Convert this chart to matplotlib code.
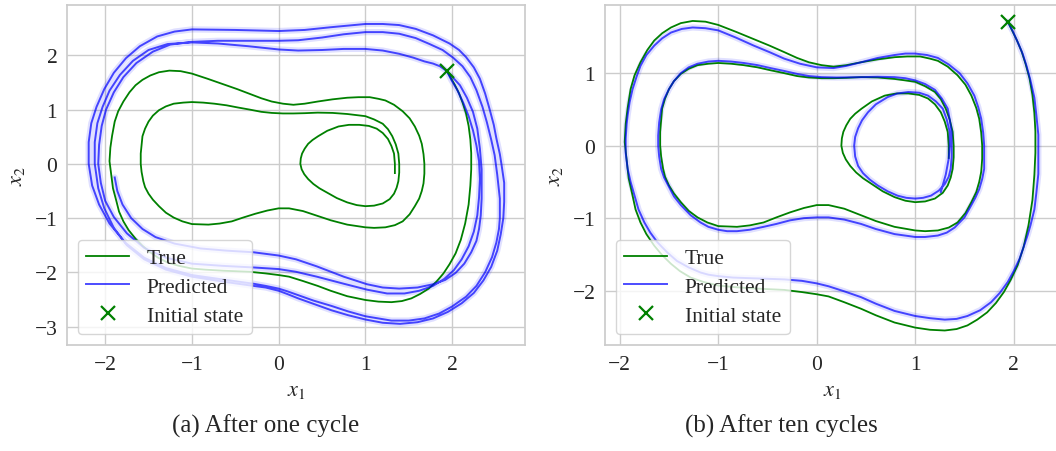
import numpy as np
import matplotlib
matplotlib.use("Agg")
import matplotlib.pyplot as plt

# ---------------- data ----------------
init_state = (1.94, 1.71)

true_x1 = [1.94, 1.98, 2.03, 2.08, 2.12, 2.16, 2.19, 2.21, 2.22, 2.22, 2.21, 2.19, 2.15, 2.10, 2.04, 1.97, 1.90, 1.82, 1.73, 1.63,
           1.53, 1.42, 1.30, 1.15, 1.00, 0.79, 0.60, 0.45, 0.28, 0.12, 0.00, -0.15, -0.33, -0.64, -0.85, -1.00, -1.15, -1.28, -1.39, -1.48,
           -1.57, -1.65, -1.73, -1.79, -1.84, -1.87, -1.91, -1.93, -1.95, -1.94, -1.92, -1.89, -1.85, -1.79, -1.72, -1.65, -1.57, -1.48, -1.38, -1.26,
           -1.13, -1.00, -0.82, -0.64, -0.48, -0.33, -0.20, -0.08, 0.05, 0.17, 0.30, 0.45, 0.62, 0.79, 0.92, 1.05, 1.15, 1.23, 1.33, 1.43,
           1.51, 1.57, 1.62, 1.65, 1.67, 1.68, 1.68, 1.67, 1.65, 1.62, 1.57, 1.51, 1.43, 1.34, 1.23, 1.10, 1.00, 0.79, 0.60, 0.45,
           0.28, 0.12, 0.00, -0.13, -0.27, -0.41, -0.54, -0.68, -0.81, -1.00, -1.11, -1.21, -1.30, -1.38, -1.45, -1.50, -1.54, -1.56, -1.58, -1.59,
           -1.59, -1.58, -1.57, -1.54, -1.50, -1.45, -1.38, -1.30, -1.21, -1.10, -1.00, -0.87, -0.74, -0.60, -0.47, -0.33, -0.20, -0.08, 0.05, 0.17,
           0.30, 0.45, 0.62, 0.79, 0.90, 1.00, 1.10, 1.20, 1.26, 1.31, 1.35, 1.38, 1.39, 1.39, 1.38, 1.36, 1.33, 1.28, 1.20, 1.10,
           1.00, 0.90, 0.79, 0.67, 0.56, 0.47, 0.40, 0.34, 0.295, 0.265, 0.25, 0.255, 0.27, 0.30, 0.34, 0.39, 0.455, 0.56, 0.69, 0.81,
           0.93, 1.04, 1.13, 1.20, 1.26, 1.30, 1.33, 1.34, 1.34]
true_x2 = [1.71, 1.60, 1.46, 1.30, 1.13, 0.93, 0.70, 0.45, 0.20, -0.10, -0.40, -0.75, -1.10, -1.40, -1.65, -1.85, -2.02, -2.17, -2.30, -2.40,
           -2.48, -2.53, -2.55, -2.54, -2.51, -2.44, -2.34, -2.25, -2.16, -2.08, -2.05, -2.02, -1.99, -1.97, -1.95, -1.93, -1.88, -1.82, -1.73, -1.63,
           -1.51, -1.38, -1.22, -1.06, -0.88, -0.69, -0.45, -0.20, 0.05, 0.30, 0.52, 0.78, 0.97, 1.15, 1.32, 1.45, 1.55, 1.63, 1.69, 1.72,
           1.71, 1.665, 1.57, 1.47, 1.38, 1.29, 1.21, 1.15, 1.11, 1.09, 1.11, 1.15, 1.19, 1.22, 1.23, 1.23, 1.20, 1.17, 1.09, 0.97,
           0.84, 0.69, 0.52, 0.37, 0.18, 0.00, -0.18, -0.36, -0.50, -0.64, -0.78, -0.93, -1.06, -1.13, -1.17, -1.18, -1.17, -1.12, -1.04, -0.96,
           -0.87, -0.82, -0.82, -0.86, -0.92, -0.99, -1.06, -1.10, -1.12, -1.11, -1.06, -0.99, -0.90, -0.78, -0.66, -0.55, -0.43, -0.32, -0.15, 0.00,
           0.19, 0.35, 0.51, 0.65, 0.78, 0.89, 0.99, 1.06, 1.11, 1.13, 1.14, 1.13, 1.11, 1.08, 1.04, 1.00, 0.96, 0.94, 0.93, 0.93,
           0.935, 0.945, 0.94, 0.92, 0.90, 0.88, 0.82, 0.74, 0.64, 0.51, 0.36, 0.19, 0.00, -0.16, -0.32, -0.44, -0.55, -0.65, -0.73, -0.77,
           -0.78, -0.76, -0.71, -0.63, -0.53, -0.45, -0.37, -0.28, -0.19, -0.10, 0.00, 0.10, 0.19, 0.28, 0.37, 0.44, 0.51, 0.61, 0.69, 0.72,
           0.72, 0.70, 0.65, 0.57, 0.46, 0.33, 0.19, 0.00, -0.17]

# prediction rolled out after one training cycle
pred1_x1 = [1.94, 1.99, 2.06, 2.13, 2.19, 2.24, 2.28, 2.31, 2.32, 2.31, 2.29, 2.25, 2.19, 2.11, 2.02, 1.91, 1.78, 1.62, 1.45, 1.25,
            1.02, 0.75, 0.44, 0.20, 0.00, -0.29, -0.65, -1.00, -1.30, -1.55, -1.75, -1.90, -2.00, -2.05, -2.08, -2.07, -2.04, -1.99, -1.90, -1.79,
            -1.64, -1.45, -1.25, -1.00, -0.70, -0.35, 0.00, 0.225, 0.50, 0.75, 1.00, 1.20, 1.39, 1.58, 1.74, 1.89, 2.01, 2.12, 2.21, 2.28,
            2.35, 2.40, 2.45, 2.49, 2.52, 2.55, 2.55, 2.54, 2.51, 2.46, 2.38, 2.28, 2.16, 2.00, 1.85, 1.68, 1.50, 1.30, 1.00, 0.80,
            0.61, 0.40, 0.225, 0.10, 0.00, -0.15, -0.29, -0.65, -1.00, -1.30, -1.55, -1.77, -1.95, -2.07, -2.15, -2.19, -2.19, -2.16, -2.10, -2.01,
            -1.90, -1.76, -1.60, -1.40, -1.20, -1.00, -0.50, 0.00, 0.30, 0.60, 1.00, 1.20, 1.39, 1.58, 1.78, 1.97, 2.08, 2.16, 2.25, 2.32,
            2.38, 2.43, 2.48, 2.51, 2.55, 2.57, 2.60, 2.60, 2.59, 2.56, 2.52, 2.45, 2.36, 2.25, 2.11, 1.95, 1.78, 1.60, 1.40, 1.20,
            1.00, 0.80, 0.61, 0.40, 0.225, 0.10, 0.00, -0.15, -0.29, -0.65, -1.00, -1.30, -1.55, -1.75, -1.90, -2.01, -2.08, -2.12, -2.12, -2.09,
            -2.03, -1.95, -1.83, -1.68, -1.50, -1.28, -1.00, -0.70, -0.35, 0.00, 0.225, 0.50, 0.75, 1.00, 1.20, 1.39, 1.55, 1.68, 1.78, 1.86,
            1.93, 2.01, 2.09, 2.17, 2.24, 2.29, 2.32, 2.34, 2.34, 2.33, 2.31, 2.28, 2.22, 2.14, 2.04, 1.92, 1.78, 1.60, 1.39, 1.20,
            1.02, 0.75, 0.44, 0.20, 0.00, -0.29, -0.60, -0.90, -1.20, -1.42, -1.57, -1.70, -1.80, -1.86, -1.89]
pred1_x2 = [1.71, 1.55, 1.36, 1.12, 0.88, 0.62, 0.34, 0.05, -0.28, -0.62, -0.95, -1.25, -1.52, -1.76, -1.96, -2.12, -2.25, -2.34, -2.39, -2.39,
            -2.32, -2.21, -2.08, -1.99, -1.94, -1.91, -1.88, -1.84, -1.73, -1.55, -1.28, -0.98, -0.68, -0.35, 0.00, 0.35, 0.70, 1.00, 1.32, 1.60,
            1.86, 2.07, 2.20, 2.25, 2.27, 2.27, 2.27, 2.28, 2.33, 2.39, 2.43, 2.43, 2.40, 2.32, 2.21, 2.10, 1.96, 1.80, 1.60, 1.36,
            1.05, 0.77, 0.45, 0.16, -0.20, -0.64, -1.00, -1.20, -1.45, -1.72, -2.00, -2.25, -2.45, -2.63, -2.76, -2.85, -2.89, -2.89, -2.81, -2.72,
            -2.62, -2.52, -2.42, -2.35, -2.30, -2.25, -2.21, -2.13, -2.05, -1.92, -1.73, -1.45, -1.10, -0.75, -0.40, 0.00, 0.40, 0.75, 1.05, 1.38,
            1.68, 1.95, 2.17, 2.35, 2.44, 2.48, 2.47, 2.45, 2.47, 2.52, 2.58, 2.58, 2.56, 2.49, 2.37, 2.22, 2.10, 1.97, 1.78, 1.57,
            1.30, 1.02, 0.72, 0.47, 0.18, -0.02, -0.35, -0.70, -1.00, -1.30, -1.60, -1.90, -2.15, -2.38, -2.57, -2.73, -2.85, -2.92, -2.95, -2.93,
            -2.87, -2.79, -2.70, -2.58, -2.48, -2.40, -2.34, -2.28, -2.25, -2.17, -2.08, -1.95, -1.76, -1.50, -1.18, -0.82, -0.45, 0.00, 0.40, 0.75,
            1.05, 1.35, 1.64, 1.90, 2.10, 2.21, 2.24, 2.22, 2.17, 2.11, 2.09, 2.10, 2.12, 2.12, 2.09, 2.03, 1.96, 1.89, 1.85, 1.80,
            1.72, 1.59, 1.45, 1.22, 0.96, 0.65, 0.28, -0.10, -0.64, -0.95, -1.20, -1.42, -1.63, -1.84, -2.01, -2.14, -2.22, -2.28, -2.30, -2.28,
            -2.22, -2.08, -1.89, -1.76, -1.69, -1.63, -1.60, -1.56, -1.47, -1.35, -1.20, -1.00, -0.75, -0.50, -0.25]

# prediction rolled out after ten training cycles
pred10_x1 = [1.94, 1.99, 2.04, 2.09, 2.13, 2.17, 2.21, 2.23, 2.25, 2.25, 2.25, 2.23, 2.21, 2.17, 2.14, 2.10, 2.06, 2.00, 1.94, 1.86,
             1.77, 1.66, 1.53, 1.42, 1.30, 1.15, 1.00, 0.79, 0.60, 0.45, 0.28, 0.12, 0.00, -0.15, -0.33, -0.64, -0.85, -1.00, -1.10, -1.18,
             -1.30, -1.42, -1.52, -1.62, -1.69, -1.75, -1.81, -1.85, -1.89, -1.92, -1.94, -1.94, -1.93, -1.92, -1.90, -1.87, -1.83, -1.79, -1.73, -1.65,
             -1.57, -1.48, -1.37, -1.26, -1.13, -1.00, -0.82, -0.64, -0.48, -0.33, -0.17, 0.00, 0.17, 0.30, 0.45, 0.62, 0.79, 0.90, 1.00, 1.12,
             1.23, 1.34, 1.45, 1.53, 1.60, 1.64, 1.67, 1.69, 1.70, 1.70, 1.70, 1.68, 1.65, 1.61, 1.57, 1.50, 1.40, 1.32, 1.23, 1.10,
             1.00, 0.79, 0.60, 0.45, 0.28, 0.12, 0.00, -0.13, -0.27, -0.41, -0.54, -0.68, -0.81, -0.91, -1.00, -1.10, -1.18, -1.28, -1.38, -1.45,
             -1.50, -1.55, -1.58, -1.60, -1.61, -1.61, -1.60, -1.58, -1.55, -1.50, -1.45, -1.38, -1.30, -1.21, -1.10, -1.00, -0.87, -0.74, -0.60, -0.47,
             -0.33, -0.20, -0.08, 0.05, 0.20, 0.45, 0.62, 0.79, 0.90, 1.00, 1.10, 1.20, 1.27, 1.33, 1.35, 1.37, 1.37, 1.37, 1.36, 1.34,
             1.30, 1.24, 1.16, 1.08, 1.00, 0.91, 0.82, 0.72, 0.62, 0.54, 0.47, 0.42, 0.39, 0.38, 0.39, 0.42, 0.46, 0.52, 0.60, 0.72,
             0.82, 0.93, 1.04, 1.13, 1.21, 1.28, 1.32, 1.35, 1.35, 1.34, 1.31, 1.26]
pred10_x2 = [1.71, 1.58, 1.43, 1.27, 1.10, 0.90, 0.66, 0.42, 0.15, -0.15, -0.39, -0.65, -0.88, -1.10, -1.24, -1.40, -1.56, -1.73, -1.88, -2.03,
             -2.16, -2.27, -2.35, -2.39, -2.40, -2.38, -2.35, -2.28, -2.18, -2.09, -2.01, -1.94, -1.90, -1.865, -1.845, -1.83, -1.82, -1.80, -1.78, -1.75,
             -1.68, -1.59, -1.47, -1.33, -1.20, -1.06, -0.88, -0.69, -0.50, -0.32, -0.10, 0.10, 0.30, 0.42, 0.60, 0.78, 0.95, 1.10, 1.25, 1.38,
             1.48, 1.56, 1.61, 1.63, 1.62, 1.59, 1.49, 1.38, 1.29, 1.20, 1.13, 1.08, 1.07, 1.10, 1.15, 1.21, 1.25, 1.27, 1.27, 1.25,
             1.21, 1.12, 1.00, 0.86, 0.69, 0.53, 0.37, 0.18, 0.00, -0.16, -0.32, -0.46, -0.60, -0.72, -0.82, -0.99, -1.13, -1.20, -1.24, -1.26,
             -1.26, -1.22, -1.15, -1.08, -1.02, -0.99, -0.99, -1.00, -1.03, -1.08, -1.12, -1.16, -1.18, -1.18, -1.16, -1.12, -1.06, -0.96, -0.82, -0.70,
             -0.57, -0.44, -0.32, -0.15, 0.00, 0.14, 0.32, 0.50, 0.64, 0.78, 0.89, 1.00, 1.08, 1.13, 1.16, 1.17, 1.16, 1.14, 1.11, 1.07,
             1.03, 0.99, 0.96, 0.945, 0.94, 0.945, 0.95, 0.945, 0.93, 0.90, 0.85, 0.77, 0.65, 0.51, 0.36, 0.19, 0.00, -0.16, -0.32, -0.43,
             -0.53, -0.62, -0.69, -0.72, -0.73, -0.72, -0.69, -0.63, -0.55, -0.47, -0.38, -0.28, -0.15, 0.00, 0.12, 0.24, 0.35, 0.46, 0.57, 0.67,
             0.72, 0.74, 0.73, 0.69, 0.61, 0.51, 0.36, 0.19, 0.00, -0.18, -0.40, -0.64]

panels = [
    dict(pred_x1=pred1_x1, pred_x2=pred1_x2, caption="(a) After one cycle",
         xticks=[-2, -1, 0, 1, 2], yticks=[-3, -2, -1, 0, 1, 2],
         xlim=(-2.44, 2.84), ylim=(-3.34, 2.93)),
    dict(pred_x1=pred10_x1, pred_x2=pred10_x2, caption="(b) After ten cycles",
         xticks=[-2, -1, 0, 1, 2], yticks=[-2, -1, 0, 1],
         xlim=(-2.15, 2.47), ylim=(-2.75, 1.94)),
]

# ---------------- style ----------------
plt.rcParams["font.family"] = ["Liberation Serif", "DejaVu Serif"]
plt.rcParams["mathtext.fontset"] = "stix"
TEXT = "#262626"
GRID = "#cccccc"

W, H = 1056, 452
fig = plt.figure(figsize=(W / 100, H / 100), dpi=100)

# axes rectangles in pixels: (left, top, width, height)
rects = [(67, 6, 458, 340), (605, 6, 455, 340)]
caption_x = [266, 781]

for p, (l, t, w, h), cx in zip(panels, rects, caption_x):
    ax = fig.add_axes([l / W, 1 - (t + h) / H, w / W, h / H])
    ax.set_facecolor("white")
    ax.grid(True, color=GRID, lw=1.0)
    ax.set_axisbelow(True)
    for s in ax.spines.values():
        s.set_edgecolor(GRID)
        s.set_linewidth(1.25)

    ax.plot(true_x1, true_x2, color="green", lw=1.3, label="True", zorder=3)
    ax.plot(p["pred_x1"], p["pred_x2"], color="blue", alpha=0.12, lw=4.5,
            solid_capstyle="round", solid_joinstyle="round", zorder=2)
    ax.plot(p["pred_x1"], p["pred_x2"], color="blue", alpha=0.7, lw=1.4,
            solid_joinstyle="round", label="Predicted", zorder=4)
    ax.plot([init_state[0]], [init_state[1]], ls="none", marker="x", ms=10,
            mew=1.6, color="green", label="Initial state", zorder=5)

    ax.set_xlim(*p["xlim"])
    ax.set_ylim(*p["ylim"])
    ax.set_xticks(p["xticks"])
    ax.set_yticks(p["yticks"])
    ax.tick_params(length=0, labelsize=15.5, colors=TEXT, pad=7)
    ax.set_xlabel("$x_1$", fontsize=16, color=TEXT)
    ax.set_ylabel("$x_2$", fontsize=16, color=TEXT)
    ax.xaxis.set_label_coords(0.5, -0.105)
    ax.yaxis.set_label_coords(-0.088, 0.5)

    leg = ax.legend(loc="lower left", fontsize=15.5, framealpha=0.8,
                    edgecolor=GRID, fancybox=True, borderaxespad=0.5,
                    labelspacing=0.4)
    for txt in leg.get_texts():
        txt.set_color(TEXT)

    fig.text(cx / W, 1 - 433 / H, p["caption"], ha="center", va="baseline",
             fontsize=18, color=TEXT)

fig.savefig("out.png", dpi=100)
